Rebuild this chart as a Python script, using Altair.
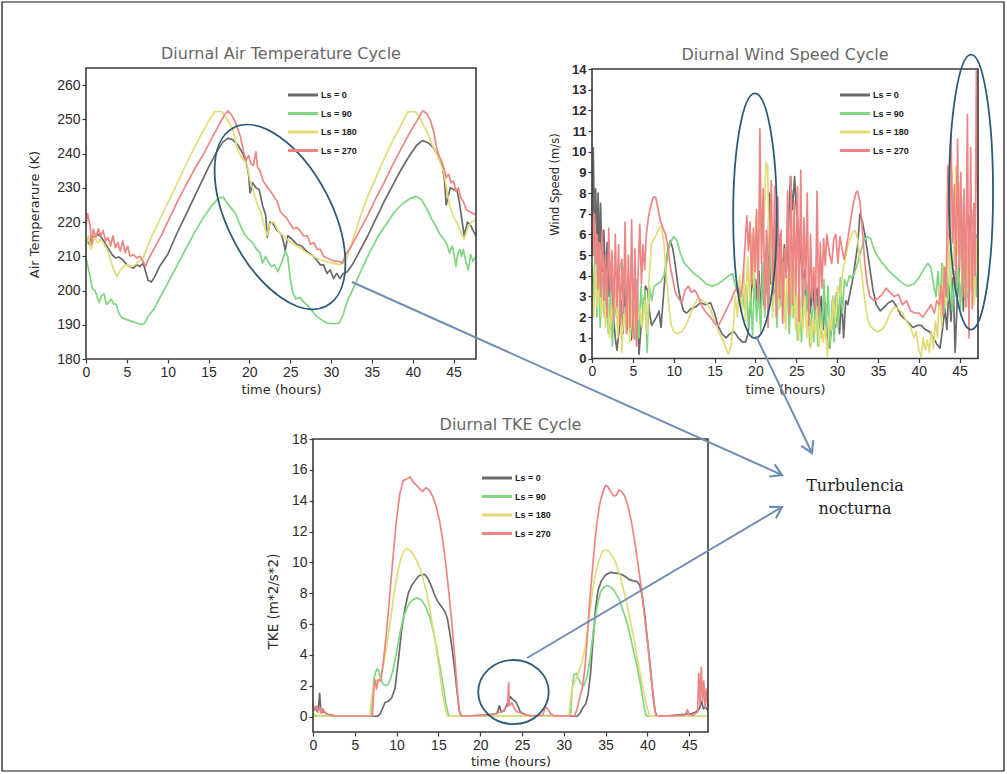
import math
import altair as alt
import pandas as pd

W, H = 1007, 774

SERIES = ["Ls = 0", "Ls = 90", "Ls = 180", "Ls = 270"]
SERIES_COLORS = ["#6a6a6a", "#80d680", "#e2dc78", "#ee8585"]

HOUR_TICKS = list(range(0, 46, 5))
TEMP_TICKS = list(range(180, 261, 10))
WIND_TICKS = list(range(0, 15))
TKE_TICKS = list(range(0, 19, 2))

# ---------------- Diurnal air temperature (K), (hour, value) ----------------
temp_ls0 = [(0, 215), (0.4, 213.5), (0.7, 216), (1.1, 215.5), (1.5, 216.5), (1.9, 215.5), (2.3, 214),
            (2.8, 212), (3.2, 210.5), (3.6, 209.5), (4.0, 209.8), (4.5, 209), (5.0, 207.5), (5.4, 207),
            (5.8, 206.5), (6.2, 207.5), (6.6, 207), (7.0, 208), (7.3, 205.5), (7.6, 203), (8.0, 202.5),
            (8.4, 204), (9.0, 207), (10, 210.5), (11, 216), (12, 221), (13, 226), (14, 231), (15, 236),
            (16, 240.5), (16.8, 243.5), (17.4, 244.5), (18.0, 244), (18.6, 242.5), (19.2, 240), (19.6, 237.5),
            (19.9, 234), (20.1, 228.5), (20.4, 231.5), (20.8, 230), (21.2, 229.5), (21.6, 225), (22.0, 222),
            (22.2, 215.5), (22.5, 220), (22.9, 219.5), (23.4, 217.5), (23.9, 216.5), (24.2, 214), (24.4, 211.5),
            (24.7, 216), (25.2, 215), (25.8, 213.5), (26.4, 213), (27.0, 211.5), (27.6, 210.5), (28.2, 209),
            (28.7, 207.5), (29.1, 207.5), (29.5, 205), (29.9, 206), (30.3, 203.5), (30.7, 205), (31.1, 203.5),
            (31.5, 205), (32.0, 205.5), (32.6, 207.5), (33.5, 211.5), (34.5, 216), (35.5, 221), (36.5, 226),
            (37.5, 230.5), (38.5, 235), (39.5, 239), (40.5, 242.5), (41.2, 243.8), (42.0, 243), (42.6, 241.5),
            (43.2, 239), (43.6, 237), (43.9, 232), (44.1, 225), (44.3, 227), (44.6, 230), (45.0, 229.5),
            (45.4, 229.5), (45.7, 226), (46.0, 221), (46.3, 216), (46.7, 220), (47.1, 219), (47.5, 217),
            (47.75, 216)]
temp_ls90 = [(0, 209.5), (0.2, 207.5), (0.5, 204), (0.8, 200.5), (1.1, 200), (1.4, 198), (1.6, 196.5),
             (1.9, 198.5), (2.2, 199), (2.5, 196), (2.8, 196.5), (3.1, 197.5), (3.4, 196), (3.7, 196),
             (4.0, 193.5), (4.4, 192), (5.0, 191.5), (5.6, 191), (6.2, 190.5), (6.8, 190), (7.2, 190.5),
             (7.6, 192.5), (8.3, 194.5), (9.3, 199), (10.3, 203.5), (11.3, 208), (12.3, 212.5), (13.3, 217),
             (14.3, 221), (15.3, 224.5), (16.2, 227), (16.8, 227.3), (17.3, 225.5), (17.8, 224), (18.3, 222.5),
             (18.9, 219), (19.4, 216.5), (19.9, 215), (20.4, 214), (20.9, 212), (21.3, 211), (21.6, 208),
             (22.0, 210), (22.3, 208.5), (22.7, 207), (23.1, 207.5), (23.5, 205.5), (24.0, 208.5),
             (24.4, 211.5), (24.7, 210), (25.0, 203.5), (25.3, 199.5), (25.7, 197.5), (26.2, 198),
             (26.7, 196.5), (27.2, 195.5), (27.7, 194), (28.2, 192.5), (28.8, 191.5), (29.5, 190.5),
             (30.3, 190.3), (31.0, 190.5), (31.5, 193), (32.0, 197), (32.8, 201), (33.8, 206.5),
             (34.8, 211.5), (35.8, 216), (36.8, 219.5), (37.8, 223), (38.8, 225.5), (39.8, 227), (40.4, 227.5),
             (41.1, 226.5), (41.7, 224), (42.3, 221), (42.8, 219), (43.3, 216.5), (43.8, 215), (44.2, 213.5),
             (44.5, 211), (44.8, 213), (45.0, 211.5), (45.3, 207), (45.5, 210.5), (45.8, 212), (46.0, 210),
             (46.2, 212), (46.5, 208.5), (46.8, 206), (47.1, 210.5), (47.4, 208.5), (47.75, 210)]
temp_ls180 = [(0, 213), (0.3, 216), (0.6, 212), (1.0, 215.5), (1.4, 214), (1.8, 215), (2.2, 213.5),
              (2.6, 212), (3.0, 209), (3.4, 206), (3.8, 204), (4.2, 206), (4.6, 207), (5.0, 207.5),
              (5.5, 207), (6.0, 207.5), (6.5, 208.5), (7.0, 209.5), (7.4, 212), (8.0, 215.5), (9.0, 220.5),
              (10.0, 225.5), (11.0, 230.5), (12.0, 235.5), (13.0, 240.5), (14.0, 245), (15.0, 249.5),
              (15.8, 252.3), (16.6, 252.3), (17.3, 250), (18.0, 247), (18.5, 241.5), (19.0, 239),
              (19.7, 237), (20.1, 232), (20.5, 229), (21.0, 225), (21.4, 223), (21.8, 219), (22.2, 216),
              (22.5, 219.5), (23.0, 220), (23.6, 217), (24.2, 216), (24.8, 214.5), (25.5, 213.5),
              (26.2, 212.5), (27.0, 211), (27.8, 210), (28.6, 209), (29.4, 208.5), (30.2, 208), (31.0, 207.5),
              (31.5, 208), (31.9, 209.5), (32.5, 213.5), (33.5, 221), (34.5, 227.5), (35.5, 233),
              (36.5, 238.5), (37.5, 243.5), (38.5, 248), (39.4, 252.2), (40.3, 252.3), (41.0, 250),
              (41.8, 246), (42.5, 242), (43.2, 238.5), (43.8, 234.5), (44.2, 229), (44.5, 225),
              (45.0, 221.5), (45.5, 219.5), (45.9, 217), (46.3, 215), (46.7, 218), (47.2, 220), (47.75, 220.5)]
temp_ls270 = [(0, 219), (0.2, 222.5), (0.5, 219), (0.7, 213.5), (0.9, 218), (1.2, 215.5), (1.5, 218),
              (1.8, 216), (2.1, 217.5), (2.4, 214.5), (2.7, 215.5), (3.0, 213), (3.3, 216), (3.6, 212.5),
              (3.9, 214), (4.2, 211.5), (4.5, 214.5), (4.8, 211), (5.1, 213), (5.4, 210), (5.8, 210.5),
              (6.2, 209.5), (6.6, 210), (7.0, 208.5), (7.3, 207), (7.6, 209), (8.3, 212), (9.3, 216.5),
              (10.3, 221.5), (11.3, 226.5), (12.3, 231), (13.3, 235.5), (14.3, 239.5), (15.3, 244),
              (16.2, 248), (17.0, 251.5), (17.4, 252.5), (17.9, 251), (18.4, 248.5), (18.9, 245),
              (19.3, 240.5), (19.6, 238), (19.9, 239.5), (20.2, 237), (20.5, 236.5), (20.8, 240.5),
              (21.0, 236), (21.3, 235), (21.7, 232), (22.1, 230.5), (22.6, 229), (23.0, 227.5), (23.4, 226),
              (23.8, 223), (24.2, 222), (24.6, 221), (25.0, 219.5), (25.4, 218), (25.8, 218.5), (26.2, 217.5),
              (26.6, 216), (27.1, 216), (27.5, 213.5), (27.9, 214), (28.3, 212), (28.7, 212), (29.1, 210),
              (29.5, 209.5), (30.0, 209), (30.5, 208.5), (31.0, 208.5), (31.4, 208), (31.8, 210.5),
              (32.5, 213), (33.5, 217.5), (34.5, 222), (35.5, 227), (36.5, 231.5), (37.5, 236.5),
              (38.5, 241), (39.5, 245.5), (40.5, 249.5), (41.2, 252.5), (41.7, 251.8), (42.2, 249.5),
              (42.6, 246), (42.9, 242), (43.2, 239.5), (43.5, 238), (43.8, 236), (44.1, 233), (44.4, 234),
              (44.7, 231.5), (45.0, 232), (45.3, 229), (45.6, 230), (45.9, 227), (46.2, 226), (46.6, 223.5),
              (47.0, 223), (47.4, 222.5), (47.75, 222)]

# ---------------- Diurnal wind speed (m/s) ----------------
wind_ls0 = [(0.0, 5.0), (0.15, 10.2), (0.3, 6.5), (0.45, 8.2), (0.6, 5.5), (0.75, 8.0), (0.9, 4.8), (1.05, 7.5),
            (1.25, 4.2), (1.45, 6.2), (1.65, 3.8), (1.85, 5.6), (2.1, 3.0), (2.35, 4.6), (2.6, 2.2), (2.85, 1.0),
            (3.05, 0.4), (3.3, 1.3), (3.55, 2.8), (3.8, 1.2), (4.05, 3.6), (4.3, 1.4), (4.55, 2.9), (4.8, 0.9),
            (5.05, 2.5), (5.3, 1.1), (5.55, 2.2), (5.75, 0.2), (6.0, 1.5), (6.3, 2.4), (6.55, 3.5), (6.8, 3.3),
            (7.05, 2.2), (7.3, 1.6), (7.6, 1.8), (7.9, 2.0), (8.2, 2.3), (8.45, 1.5), (8.7, 2.8), (9.0, 4.3),
            (9.3, 5.3), (9.6, 5.7), (9.9, 5.3), (10.2, 4.5), (10.5, 3.6), (10.8, 2.9), (11.2, 2.3), (11.6, 2.2),
            (12.1, 2.4), (12.7, 2.5), (13.3, 2.7), (13.9, 2.6), (14.5, 2.7), (15.0, 2.2), (15.4, 1.6),
            (15.9, 1.2), (16.4, 1.0), (16.9, 1.2), (17.4, 1.3), (17.9, 1.0), (18.4, 0.8), (18.8, 0.8),
            (19.1, 1.2), (19.4, 2.6), (19.6, 3.8), (19.85, 3.3), (20.05, 3.8), (20.25, 2.4), (20.45, 4.2),
            (20.65, 1.8), (20.85, 4.5), (21.05, 2.6), (21.25, 5.2), (21.45, 3.1), (21.7, 8.0), (21.9, 3.6),
            (22.1, 6.2), (22.3, 3.2), (22.55, 5.4), (22.8, 3.5), (23.05, 6.0), (23.3, 3.8), (23.55, 5.5),
            (23.8, 4.2), (24.05, 6.4), (24.3, 8.8), (24.55, 7.2), (24.8, 8.8), (25.05, 7.0), (25.3, 6.2),
            (25.55, 5.0), (25.8, 3.8), (26.05, 4.3), (26.3, 2.3), (26.55, 3.9), (26.8, 2.2), (27.05, 3.7),
            (27.3, 1.9), (27.55, 3.4), (27.8, 1.5), (28.05, 3.0), (28.3, 1.4), (28.55, 2.7), (28.8, 1.0),
            (29.05, 0.5), (29.3, 1.4), (29.55, 3.0), (29.8, 1.5), (30.05, 2.6), (30.3, 1.2), (30.55, 2.9),
            (30.8, 1.0), (31.05, 2.8), (31.3, 2.6), (31.6, 3.2), (31.9, 3.8), (32.2, 4.6), (32.5, 5.4),
            (32.8, 7.0), (33.1, 6.6), (33.4, 6.0), (33.7, 5.2), (34.0, 4.4), (34.4, 3.3), (34.8, 2.6),
            (35.3, 2.3), (35.8, 2.5), (36.3, 2.7), (36.8, 2.8), (37.3, 2.5), (37.8, 2.1), (38.3, 1.9),
            (38.8, 1.7), (39.3, 1.5), (39.8, 1.6), (40.3, 1.6), (40.8, 1.4), (41.3, 1.3), (41.8, 1.0),
            (42.2, 0.7), (42.6, 0.5), (42.9, 1.4), (43.2, 2.4), (43.45, 1.4), (43.7, 3.5), (43.95, 1.8),
            (44.2, 3.9), (44.45, 0.3), (44.7, 2.8), (44.95, 4.1), (45.2, 7.9), (45.45, 2.3), (45.7, 5.2),
            (45.95, 3.0), (46.2, 6.6), (46.45, 7.2), (46.7, 3.4), (46.95, 6.0), (47.25, 5.0)]
wind_ls90 = [(0.0, 4.5), (0.2, 2.8), (0.4, 5.8), (0.6, 2.0), (0.8, 4.5), (1.0, 1.5), (1.25, 4.0), (1.5, 2.0),
             (1.75, 3.6), (2.0, 1.2), (2.25, 3.2), (2.5, 0.6), (2.75, 3.0), (3.0, 2.0), (3.3, 4.2), (3.6, 4.7),
             (3.9, 4.2), (4.2, 3.0), (4.5, 3.6), (4.75, 1.4), (5.0, 3.3), (5.25, 0.9), (5.5, 3.8), (5.75, 1.0),
             (6.0, 3.5), (6.25, 2.0), (6.5, 3.3), (6.75, 0.3), (7.0, 3.5), (7.3, 2.8), (7.6, 3.5), (8.0, 3.6),
             (8.4, 3.7), (8.8, 4.0), (9.2, 5.0), (9.6, 5.6), (10.0, 5.9), (10.4, 5.7), (10.8, 5.1), (11.3, 4.6),
             (11.8, 4.4), (12.5, 4.1), (13.2, 3.9), (14.0, 3.6), (14.7, 3.5), (15.4, 3.6), (16.1, 3.8),
             (16.7, 4.0), (17.2, 4.1), (17.5, 3.6), (17.8, 3.2), (18.1, 3.0), (18.4, 3.4), (18.65, 2.4),
             (18.9, 3.6), (19.15, 1.5), (19.4, 3.2), (19.65, 1.1), (19.9, 4.0), (20.15, 1.8), (20.4, 3.6),
             (20.65, 1.2), (20.9, 4.6), (21.15, 2.0), (21.4, 5.2), (21.65, 2.8), (21.9, 6.0), (22.15, 2.3),
             (22.4, 4.6), (22.65, 1.5), (22.9, 5.0), (23.15, 2.5), (23.4, 4.6), (23.65, 1.8), (23.9, 3.6),
             (24.15, 1.2), (24.4, 4.3), (24.65, 2.0), (24.9, 3.5), (25.15, 0.9), (25.4, 3.0), (25.65, 0.8),
             (25.9, 3.8), (26.15, 2.0), (26.4, 3.5), (26.65, 0.6), (26.9, 2.5), (27.15, 0.8), (27.4, 3.0),
             (27.65, 0.6), (27.9, 2.5), (28.15, 1.0), (28.4, 3.8), (28.65, 1.2), (28.9, 3.5), (29.15, 0.5),
             (29.4, 2.8), (29.65, 0.8), (29.9, 3.2), (30.15, 1.5), (30.4, 3.9), (30.65, 2.2), (30.9, 3.8),
             (31.2, 3.5), (31.5, 4.0), (31.8, 3.9), (32.1, 4.1), (32.5, 4.6), (32.9, 5.2), (33.3, 5.7),
             (33.7, 5.9), (34.1, 5.8), (34.5, 5.3), (35.0, 4.9), (35.6, 4.6), (36.2, 4.3), (37.0, 4.0),
             (37.8, 3.7), (38.6, 3.5), (39.4, 3.6), (40.0, 3.9), (40.6, 4.3), (41.1, 4.6), (41.5, 4.4),
             (41.8, 3.6), (42.1, 3.0), (42.35, 4.2), (42.6, 2.6), (42.85, 4.6), (43.1, 2.2), (43.35, 4.4),
             (43.6, 2.8), (43.85, 4.8), (44.1, 2.3), (44.35, 4.2), (44.6, 3.0), (44.85, 4.5), (45.1, 2.4),
             (45.35, 5.0), (45.6, 3.0), (45.85, 4.6), (46.1, 2.5), (46.35, 4.8), (46.6, 3.2), (46.85, 5.6),
             (47.05, 3.0), (47.25, 4.4)]
wind_ls180 = [(0.0, 3.0), (0.2, 2.0), (0.4, 4.5), (0.65, 2.5), (0.9, 3.8), (1.15, 2.0), (1.4, 3.5), (1.65, 1.5),
              (1.9, 3.0), (2.15, 1.0), (2.4, 2.6), (2.65, 1.8), (2.9, 3.5), (3.15, 1.0), (3.4, 3.3), (3.65, 0.3),
              (3.9, 2.5), (4.15, 1.3), (4.4, 3.0), (4.65, 0.8), (4.9, 2.5), (5.15, 1.5), (5.4, 2.6), (5.65, 1.9),
              (5.9, 2.4), (6.15, 1.5), (6.45, 2.8), (6.75, 1.2), (7.0, 4.0), (7.3, 5.6), (7.6, 5.8), (7.9, 6.0),
              (8.2, 6.3), (8.5, 6.4), (8.8, 5.6), (9.1, 4.0), (9.4, 2.6), (9.7, 1.6), (10.0, 1.3), (10.5, 1.2),
              (11.0, 1.3), (11.5, 1.6), (12.0, 2.1), (12.5, 2.6), (13.0, 2.9), (13.5, 2.8), (14.0, 2.7),
              (14.5, 2.4), (15.0, 1.8), (15.5, 1.3), (16.0, 0.9), (16.4, 0.5), (16.7, 0.2), (17.0, 0.6),
              (17.3, 1.6), (17.55, 3.0), (17.8, 2.0), (18.05, 4.0), (18.3, 2.2), (18.55, 4.4), (18.8, 1.8),
              (19.05, 4.9), (19.3, 2.8), (19.55, 6.0), (19.8, 3.4), (20.05, 6.9), (20.3, 4.0), (20.55, 7.5),
              (20.8, 5.5), (21.1, 7.0), (21.3, 9.5), (21.5, 9.3), (21.7, 5.0), (21.9, 7.0), (22.1, 2.0),
              (22.3, 5.2), (22.5, 2.8), (22.7, 6.4), (22.9, 2.4), (23.1, 5.5), (23.3, 1.9), (23.5, 4.6),
              (23.7, 1.4), (23.9, 4.0), (24.1, 2.9), (24.3, 5.0), (24.5, 2.0), (24.7, 4.4), (24.9, 1.4),
              (25.1, 3.1), (25.3, 0.9), (25.55, 2.5), (25.8, 1.3), (26.05, 3.0), (26.3, 1.0), (26.55, 2.6),
              (26.8, 0.5), (27.05, 2.0), (27.3, 1.2), (27.55, 2.5), (27.8, 0.6), (28.05, 1.8), (28.3, 0.8),
              (28.55, 1.5), (28.8, 0.1), (29.05, 2.0), (29.3, 1.4), (29.55, 3.0), (29.8, 1.7), (30.1, 3.5),
              (30.4, 3.0), (30.7, 4.2), (31.0, 4.8), (31.3, 5.4), (31.6, 5.8), (31.9, 6.1), (32.2, 6.2),
              (32.5, 5.8), (32.8, 4.8), (33.1, 3.8), (33.4, 2.8), (33.7, 2.0), (34.0, 1.6), (34.5, 1.4),
              (35.0, 1.3), (35.5, 1.4), (36.0, 1.7), (36.5, 2.2), (37.0, 2.5), (37.5, 2.4), (38.0, 2.2),
              (38.5, 1.8), (39.0, 1.5), (39.4, 1.0), (39.7, 1.3), (40.0, 0.4), (40.3, 0.1), (40.55, 1.0),
              (40.8, 0.4), (41.05, 0.9), (41.3, 0.3), (41.55, 1.3), (41.8, 0.5), (42.05, 1.8), (42.3, 1.0),
              (42.55, 3.5), (42.8, 1.5), (43.05, 4.5), (43.3, 2.5), (43.55, 6.2), (43.8, 3.5), (44.05, 9.0),
              (44.3, 4.5), (44.55, 9.3), (44.8, 5.0), (45.05, 8.5), (45.3, 3.5), (45.55, 6.8), (45.8, 2.5),
              (46.05, 5.5), (46.3, 3.4), (46.55, 6.4), (46.8, 2.6), (47.05, 5.8), (47.25, 4.0)]
wind_ls270 = [(0.0, 7.8), (0.15, 5.0), (0.3, 7.0), (0.45, 4.6), (0.6, 6.0), (0.75, 3.4), (0.9, 5.6), (1.05, 3.0),
              (1.25, 6.2), (1.45, 2.8), (1.65, 5.0), (1.85, 2.0), (2.05, 6.3), (2.25, 3.2), (2.45, 5.2),
              (2.65, 1.8), (2.85, 6.0), (3.05, 2.5), (3.25, 5.5), (3.45, 1.6), (3.65, 4.8), (3.85, 2.2),
              (4.05, 6.6), (4.25, 1.2), (4.45, 5.0), (4.65, 1.5), (4.85, 6.7), (5.05, 1.0), (5.25, 5.3),
              (5.45, 0.6), (5.65, 4.2), (5.85, 6.5), (6.05, 3.6), (6.25, 5.5), (6.45, 4.3), (6.65, 6.0),
              (6.9, 6.8), (7.2, 7.4), (7.5, 7.8), (7.8, 7.8), (8.1, 7.2), (8.4, 6.6), (8.7, 6.3), (9.0, 6.0),
              (9.3, 5.4), (9.6, 4.4), (9.9, 3.8), (10.2, 3.2), (10.6, 2.9), (11.0, 2.7), (11.4, 3.3),
              (11.8, 3.5), (12.2, 3.2), (12.6, 3.3), (13.0, 3.0), (13.5, 2.5), (14.0, 2.2), (14.5, 2.0),
              (15.0, 1.7), (15.5, 1.6), (16.0, 2.0), (16.5, 2.4), (17.0, 2.8), (17.5, 3.3), (17.9, 3.4),
              (18.2, 3.0), (18.5, 3.9), (18.75, 5.6), (18.95, 6.9), (19.15, 5.2), (19.35, 6.6), (19.55, 3.6),
              (19.75, 6.3), (19.95, 4.2), (20.15, 7.2), (20.35, 2.8), (20.55, 11.1), (20.75, 4.6), (20.95, 8.2),
              (21.15, 2.4), (21.35, 6.2), (21.55, 1.5), (21.75, 5.4), (21.95, 8.6), (22.15, 3.1), (22.35, 8.3),
              (22.55, 2.0), (22.75, 7.8), (22.95, 2.9), (23.15, 6.2), (23.35, 1.7), (23.55, 5.3), (23.75, 3.9),
              (23.95, 8.1), (24.15, 2.1), (24.35, 8.8), (24.55, 2.6), (24.75, 7.6), (24.95, 3.1), (25.15, 8.3),
              (25.35, 1.8), (25.55, 9.1), (25.75, 2.5), (25.95, 6.8), (26.15, 3.3), (26.35, 8.0), (26.55, 1.6),
              (26.75, 6.0), (26.95, 2.9), (27.15, 4.4), (27.35, 2.4), (27.55, 8.1), (27.75, 2.1), (27.95, 5.6),
              (28.15, 3.4), (28.35, 5.8), (28.55, 4.5), (28.75, 6.0), (28.95, 5.4), (29.15, 4.9), (29.35, 4.6),
              (29.6, 5.8), (29.85, 6.0), (30.1, 4.6), (30.35, 5.9), (30.6, 5.3), (30.85, 4.8), (31.1, 5.3),
              (31.4, 6.0), (31.7, 6.8), (32.0, 7.5), (32.3, 8.0), (32.5, 8.1), (32.8, 7.6), (33.1, 6.2),
              (33.4, 4.6), (33.7, 3.6), (34.0, 3.0), (34.5, 2.8), (35.0, 2.9), (35.5, 3.1), (36.0, 3.4),
              (36.5, 3.2), (37.0, 3.0), (37.5, 3.1), (38.0, 2.6), (38.5, 2.8), (39.0, 2.3), (39.5, 2.2),
              (40.0, 2.2), (40.5, 2.0), (41.0, 2.3), (41.5, 2.6), (41.9, 2.2), (42.2, 2.8), (42.5, 2.6),
              (42.75, 3.5), (42.95, 2.1), (43.15, 4.4), (43.35, 3.0), (43.55, 9.3), (43.75, 5.8), (43.95, 10.8),
              (44.15, 5.6), (44.35, 8.4), (44.55, 3.6), (44.75, 10.6), (44.95, 4.4), (45.15, 9.0), (45.35, 3.0),
              (45.55, 8.2), (45.75, 2.5), (45.95, 11.8), (46.15, 1.0), (46.35, 10.2), (46.55, 2.4), (46.75, 7.5),
              (46.9, 4.0), (47.05, 13.9), (47.25, 6.0)]

# ---------------- Diurnal turbulent kinetic energy (m^2/s^2) ----------------
tke_ls0 = [(0, 0.4), (0.3, 0.5), (0.6, 0.3), (0.8, 1.5), (0.95, 0.3), (1.3, 0.3), (1.7, 0.15), (2.2, 0.1),
           (3.0, 0.02), (7.7, 0.02), (8.0, 0.15), (8.3, 0.5), (8.6, 0.9), (9.0, 1.0), (9.4, 1.2), (9.8, 1.8),
           (10.2, 3.6), (10.6, 5.6), (11.0, 7.0), (11.4, 8.0), (11.8, 8.5), (12.2, 8.8), (12.6, 9.1),
           (13.0, 9.2), (13.4, 9.2), (13.8, 8.9), (14.2, 8.4), (14.6, 7.8), (15.0, 7.4), (15.4, 7.1),
           (15.8, 6.8), (16.1, 6.3), (16.4, 5.3), (16.7, 4.2), (17.0, 2.8), (17.3, 1.3), (17.5, 0.4),
           (17.7, 0.05), (19.0, 0.05), (20.5, 0.1), (21.5, 0.15), (22.0, 0.2), (22.3, 0.7), (22.5, 0.3),
           (22.9, 0.4), (23.3, 0.9), (23.6, 1.3), (23.9, 1.1), (24.2, 1.0), (24.5, 0.7), (24.8, 0.3),
           (25.3, 0.15), (26.0, 0.05), (31.6, 0.02), (31.9, 0.2), (32.3, 0.6), (32.6, 0.8), (32.9, 1.4),
           (33.2, 2.8), (33.5, 5.0), (33.8, 7.0), (34.1, 8.2), (34.5, 8.8), (35.0, 9.2), (35.6, 9.35),
           (36.2, 9.3), (36.8, 9.25), (37.3, 9.1), (37.8, 8.9), (38.3, 8.8), (38.8, 8.75), (39.1, 8.5),
           (39.4, 7.8), (39.7, 6.5), (40.0, 5.0), (40.3, 3.5), (40.6, 1.8), (40.9, 0.4), (41.1, 0.05),
           (42.5, 0.05), (43.5, 0.1), (44.5, 0.15), (45.3, 0.2), (45.8, 0.3), (46.2, 0.5), (46.5, 1.0),
           (46.7, 0.5), (47.0, 0.6), (47.25, 0.4)]
tke_ls90 = [(0, 0.05), (6.9, 0.05), (7.1, 1.0), (7.3, 2.5), (7.5, 2.9), (7.7, 3.1), (7.9, 2.9), (8.1, 2.4),
            (8.4, 2.1), (8.7, 2.0), (9.0, 2.1), (9.3, 2.5), (9.6, 3.1), (10.0, 4.2), (10.4, 5.4), (10.8, 6.4),
            (11.2, 7.0), (11.6, 7.4), (12.0, 7.6), (12.5, 7.7), (13.0, 7.55), (13.5, 7.1), (14.0, 6.4),
            (14.4, 5.5), (14.8, 4.4), (15.2, 3.2), (15.6, 1.9), (15.9, 0.8), (16.2, 0.1), (16.4, 0.02),
            (30.8, 0.02), (31.0, 1.8), (31.2, 2.7), (31.5, 2.8), (31.8, 2.4), (32.1, 2.1), (32.4, 2.0),
            (32.8, 2.6), (33.2, 4.0), (33.6, 5.8), (34.0, 7.2), (34.4, 8.1), (34.8, 8.4), (35.2, 8.5),
            (35.6, 8.4), (36.0, 8.2), (36.6, 7.6), (37.2, 6.7), (37.6, 6.0), (38.0, 5.1), (38.4, 4.1),
            (38.8, 3.2), (39.2, 2.0), (39.5, 1.0), (39.8, 0.1), (40.0, 0.02), (47.25, 0.02)]
tke_ls180 = [(0, 0.2), (0.5, 0.1), (1.5, 0.02), (6.8, 0.02), (7.0, 1.2), (7.3, 2.0), (7.6, 2.3), (8.0, 2.4),
             (8.4, 3.2), (8.8, 4.5), (9.2, 6.0), (9.6, 7.6), (10.0, 9.0), (10.4, 10.0), (10.8, 10.7),
             (11.2, 10.9), (11.6, 10.8), (12.0, 10.5), (12.4, 10.1), (12.8, 9.6), (13.2, 8.9), (13.6, 8.0),
             (14.0, 6.9), (14.4, 5.6), (14.8, 4.2), (15.2, 2.7), (15.6, 1.2), (15.9, 0.3), (16.1, 0.02),
             (30.6, 0.02), (30.8, 1.0), (31.0, 1.8), (31.3, 2.2), (31.6, 2.6), (31.9, 3.1), (32.2, 3.6),
             (32.6, 4.6), (33.0, 6.3), (33.4, 8.0), (33.8, 9.3), (34.2, 10.1), (34.6, 10.7), (35.0, 10.8),
             (35.4, 10.7), (35.8, 10.4), (36.2, 10.0), (36.8, 9.0), (37.2, 8.1), (37.6, 7.2), (38.0, 6.1),
             (38.4, 5.0), (38.8, 3.8), (39.2, 2.6), (39.6, 1.5), (40.0, 0.5), (40.3, 0.02), (47.25, 0.02)]
tke_ls270 = [(0, 0.8), (0.2, 0.5), (0.4, 0.7), (0.6, 0.3), (0.8, 0.6), (1.0, 0.2), (1.2, 0.5), (1.5, 0.2),
             (2.0, 0.1), (2.5, 0.02), (7.1, 0.02), (7.25, 1.5), (7.4, 2.4), (7.6, 1.8), (7.8, 2.4), (8.1, 2.3),
             (8.4, 3.5), (8.8, 5.5), (9.2, 8.0), (9.6, 10.5), (10.0, 12.8), (10.4, 14.5), (10.8, 15.3),
             (11.2, 15.4), (11.6, 15.55), (12.0, 15.2), (12.4, 15.0), (12.8, 14.75), (13.1, 14.6),
             (13.5, 14.85), (13.9, 14.7), (14.3, 14.3), (14.7, 13.7), (15.1, 12.8), (15.5, 11.5), (15.9, 9.8),
             (16.3, 7.8), (16.7, 5.5), (17.0, 3.5), (17.3, 1.5), (17.5, 0.3), (17.7, 0.05), (19.0, 0.05),
             (21.0, 0.1), (22.0, 0.2), (22.4, 0.3), (22.8, 0.4), (23.1, 0.6), (23.3, 0.7), (23.4, 2.2),
             (23.5, 0.7), (23.8, 0.9), (24.1, 0.5), (24.4, 0.3), (24.8, 0.25), (25.2, 0.15), (26.0, 0.05),
             (27.5, 0.1), (27.8, 0.6), (28.1, 0.5), (28.4, 0.2), (28.8, 0.05), (31.3, 0.05), (31.6, 0.5),
             (31.9, 1.2), (32.2, 1.8), (32.5, 3.0), (32.8, 5.0), (33.1, 7.5), (33.5, 10.0), (33.9, 12.3),
             (34.3, 13.8), (34.7, 14.6), (35.0, 15.0), (35.3, 14.9), (35.7, 14.5), (36.0, 14.3),
             (36.3, 14.35), (36.6, 14.7), (36.9, 14.6), (37.3, 14.3), (37.7, 13.6), (38.1, 12.6),
             (38.5, 11.3), (38.9, 9.8), (39.3, 8.2), (39.7, 6.3), (40.1, 4.4), (40.5, 2.3), (40.8, 0.8),
             (41.0, 0.1), (41.3, 0.05), (43.0, 0.05), (44.5, 0.1), (44.8, 0.45), (45.0, 0.1), (45.5, 0.1),
             (46.0, 0.3), (46.15, 2.8), (46.3, 0.8), (46.45, 3.2), (46.6, 1.0), (46.75, 2.3), (46.9, 0.6),
             (47.05, 1.8), (47.25, 0.6)]

# ---------------- layout of the three panels on the page ----------------
PANELS = {
    "temp": dict(title="Diurnal Air Temperature Cycle", xdom=[0, 47.75], ydom=[180, 265],
                 left=86, right=476, top=68, bottom=359, yticks=TEMP_TICKS,
                 ytitle="Air Temperarure (K)", ytitle_size=13, ytitle_at=(34, 214), ylabel_size=14,
                 ylabel_weight="normal", xtitle_y=389, legend_at=(295.5, 87.5)),
    "wind": dict(title="Diurnal Wind Speed Cycle", xdom=[0, 47.25], ydom=[0, 14],
                 left=592, right=978, top=69, bottom=358.5, yticks=WIND_TICKS,
                 ytitle="Wind Speed (m/s)", ytitle_size=11.5, ytitle_at=(555, 184), ylabel_size=13,
                 ylabel_weight="bold", xtitle_y=389, legend_at=(847.5, 87.5)),
    "tke": dict(title="Diurnal TKE Cycle", xdom=[0, 47.25], ydom=[-1, 18],
                left=313, right=708, top=439, bottom=732, yticks=TKE_TICKS,
                ytitle="TKE (m*2/s*2)", ytitle_size=13.5, ytitle_at=(273, 601), ylabel_size=14,
                ylabel_weight="normal", xtitle_y=761, legend_at=(489.5, 470.5)),
}

# Rings drawn around the nocturnal turbulence, placed in each panel's data units:
# (hour, value, major axis in px, minor/major ratio, rotation in degrees)
RINGS = {
    "temp": [(23.75, 221.5, 201, 0.517, 62.5)],
    "wind": [(19.95, 6.9, 245, 0.178, 90), (46.4, 8.05, 275, 0.16, 90)],
    "tke": [(23.98, 1.59, 70.5, 0.91, 0)],
}

# Callout arrows and label, in page coordinates (px from the top-left corner)
ARROWS = [((352, 282), (782, 475)), ((756, 336), (812, 453)), ((527, 658), (782, 507))]
CALLOUT = [("Turbulencia", 855, 486), ("nocturna", 855, 509)]

RING_COLOR = "#2e5b78"
ARROW_COLOR = "#6f8db2"
FRAME_COLOR = "#3a3a3a"
TEXT_COLOR = "#2b2b2b"
TITLE_COLOR = "#676767"

LEGEND_STROKE = "M-2.5,0H2.5"
ARROW_HEAD = "M-1,-0.6L0,0L-1,0.6"

AXIS_STYLE = dict(domain=False, grid=False, ticks=True, tickSize=4, tickColor=FRAME_COLOR, tickWidth=1.2,
                  labelFont="Liberation Sans", labelColor=TEXT_COLOR, labelPadding=2, labelFlush=False,
                  labelOverlap=False, format="d", titleFont="DejaVu Sans", titleColor=TEXT_COLOR,
                  titleFontWeight="normal", titleAlign="center", titleBaseline="middle")


def ellipse_path(ratio):
    k = 0.5523
    r = ratio
    return (f"M-1,0C-1,{-k * r:.4f} {-k:.4f},{-r:.4f} 0,{-r:.4f}"
            f"C{k:.4f},{-r:.4f} 1,{-k * r:.4f} 1,0"
            f"C1,{k * r:.4f} {k:.4f},{r:.4f} 0,{r:.4f}"
            f"C{-k:.4f},{r:.4f} -1,{k * r:.4f} -1,0Z")


def panel(series, cfg, rings):
    rows = [{"hour": h, "value": v, "series": name}
            for name, pts in zip(SERIES, series) for h, v in pts]
    df = pd.DataFrame(rows)

    xs = alt.Scale(domain=cfg["xdom"], range=[cfg["left"], cfg["right"]], nice=False, zero=False)
    ys = alt.Scale(domain=cfg["ydom"], range=[cfg["bottom"], cfg["top"]], nice=False, zero=False)

    x_axis = alt.Axis(orient="bottom", offset=cfg["bottom"] - H, values=HOUR_TICKS, title="time (hours)",
                      labelFontSize=14, titleFontSize=13, titleAngle=0,
                      titleX=(cfg["left"] + cfg["right"]) / 2, titleY=cfg["xtitle_y"] - cfg["bottom"],
                      **AXIS_STYLE)
    y_axis = alt.Axis(orient="left", offset=-cfg["left"], values=cfg["yticks"], title=cfg["ytitle"],
                      labelFontSize=cfg["ylabel_size"], labelFontWeight=cfg["ylabel_weight"],
                      titleFontSize=cfg["ytitle_size"], titleAngle=270,
                      titleX=cfg["ytitle_at"][0] - cfg["left"], titleY=cfg["ytitle_at"][1],
                      **AXIS_STYLE)
    legend = alt.Legend(orient="none", legendX=cfg["legend_at"][0], legendY=cfg["legend_at"][1], title=None,
                        symbolType=LEGEND_STROKE, symbolSize=144, symbolStrokeWidth=3,
                        labelFont="Liberation Sans", labelFontSize=9, labelFontWeight="bold",
                        labelColor="#1a1a1a", labelOffset=10.5, rowPadding=4.5, padding=0)

    lines = alt.Chart(df).mark_line(strokeWidth=1.7, strokeJoin="round").encode(
        x=alt.X("hour:Q", scale=xs, axis=x_axis),
        y=alt.Y("value:Q", scale=ys, axis=y_axis),
        color=alt.Color("series:N", scale=alt.Scale(domain=SERIES, range=SERIES_COLORS), legend=legend),
    )

    box_df = pd.DataFrame({"hour": [cfg["xdom"][0]], "hour_end": [cfg["xdom"][1]],
                           "value": [cfg["ydom"][0]], "value_end": [cfg["ydom"][1]]})
    box = alt.Chart(box_df).mark_rect(fillOpacity=0, stroke=FRAME_COLOR, strokeWidth=1.6).encode(
        x=alt.X("hour:Q", scale=xs), x2="hour_end:Q",
        y=alt.Y("value:Q", scale=ys), y2="value_end:Q",
    )

    head_df = pd.DataFrame({"hour": [sum(cfg["xdom"]) / 2], "value": [cfg["ydom"][1]], "label": [cfg["title"]]})
    heading = alt.Chart(head_df).mark_text(baseline="bottom", dy=-6, font="DejaVu Sans", fontSize=16,
                                           color=TITLE_COLOR).encode(
        x=alt.X("hour:Q", scale=xs), y=alt.Y("value:Q", scale=ys), text="label:N",
    )

    ring_df = pd.DataFrame([{"hour": h, "value": v, "size": major ** 2, "angle": ang,
                             "shape": ellipse_path(ratio)} for h, v, major, ratio, ang in rings])
    ring = alt.Chart(ring_df).mark_point(filled=False, opacity=1, color=RING_COLOR, strokeWidth=1.8).encode(
        x=alt.X("hour:Q", scale=xs), y=alt.Y("value:Q", scale=ys),
        size=alt.Size("size:Q", scale=None),
        angle=alt.Angle("angle:Q", scale=None),
        shape=alt.Shape("shape:N", scale=None),
    )
    return alt.layer(lines, box, heading, ring)


temp = panel([temp_ls0, temp_ls90, temp_ls180, temp_ls270], PANELS["temp"], RINGS["temp"])
wind = panel([wind_ls0, wind_ls90, wind_ls180, wind_ls270], PANELS["wind"], RINGS["wind"])
tke = panel([tke_ls0, tke_ls90, tke_ls180, tke_ls270], PANELS["tke"], RINGS["tke"])

# ---------------- callouts in page coordinates ----------------
page_x = alt.Scale(domain=[0, W], range=[0, W], nice=False, zero=False)
page_y = alt.Scale(domain=[0, H], range=[0, H], nice=False, zero=False)

arrow_df = pd.DataFrame([{"x": a[0], "y": a[1], "x_end": b[0], "y_end": b[1],
                          "heading": math.degrees(math.atan2(b[1] - a[1], b[0] - a[0])) % 360}
                         for a, b in ARROWS])
shafts = alt.Chart(arrow_df).mark_rule(color=ARROW_COLOR, strokeWidth=2).encode(
    x=alt.X("x:Q", scale=page_x, axis=None), y=alt.Y("y:Q", scale=page_y, axis=None),
    x2="x_end:Q", y2="y_end:Q",
)
heads = alt.Chart(arrow_df).mark_point(shape=ARROW_HEAD, filled=False, size=484, color=ARROW_COLOR,
                                       strokeWidth=2.2, opacity=1).encode(
    x=alt.X("x_end:Q", scale=page_x, axis=None), y=alt.Y("y_end:Q", scale=page_y, axis=None),
    angle=alt.Angle("heading:Q", scale=None),
)
label_df = pd.DataFrame([{"x": x, "y": y, "text": t} for t, x, y in CALLOUT])
label = alt.Chart(label_df).mark_text(font="DejaVu Serif", fontSize=16, color="#1e1e1e",
                                      align="center", baseline="middle").encode(
    x=alt.X("x:Q", scale=page_x, axis=None), y=alt.Y("y:Q", scale=page_y, axis=None), text="text:N",
)
border_df = pd.DataFrame({"x": [2], "x_end": [1004], "y": [2], "y_end": [771]})
border = alt.Chart(border_df).mark_rect(fillOpacity=0, stroke="#111111", strokeWidth=1.2).encode(
    x=alt.X("x:Q", scale=page_x, axis=None), x2="x_end:Q",
    y=alt.Y("y:Q", scale=page_y, axis=None), y2="y_end:Q",
)
notes = alt.layer(shafts, heads, label, border)

chart = alt.layer(temp, wind, tke, notes).resolve_scale(
    x="independent", y="independent", color="independent"
).properties(
    width=W, height=H, padding=0, background="white",
    autosize=alt.AutoSizeParams(type="none"),
).configure_view(strokeWidth=0)

chart.save("out.html", embed_options={"renderer": "svg", "actions": False})
